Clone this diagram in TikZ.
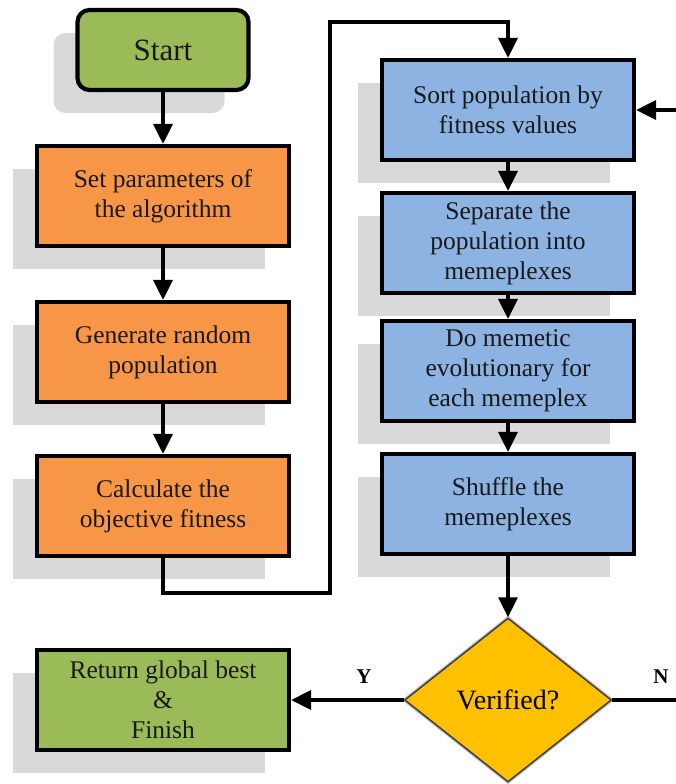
\documentclass[tikz,border=0pt]{standalone}
\usepackage{fontspec}
\setmainfont{Liberation Serif}
\usetikzlibrary{arrows.meta,shapes.geometric,shadows}
\definecolor{startgreen}{HTML}{9BBB59}
\definecolor{stepgold}{HTML}{F79646}
\definecolor{loopblue}{HTML}{8DB3E2}
\definecolor{askgold}{HTML}{FFC000}
\definecolor{shadowgray}{HTML}{D9D9D9}

\begin{document}
\begin{tikzpicture}[x=1pt,y=-1pt,
 box/.style={draw=black,line width=4.2pt,minimum width=252pt,minimum height=100pt,
  inner sep=2pt,align=center,text=black!90,font=\fontsize{25.5}{30}\selectfont,
  drop shadow={shadow xshift=-24pt,shadow yshift=-23pt,fill=shadowgray,opacity=1}},
 flow/.style={line width=3.3pt,-{Triangle[length=20pt,width=19pt]}},
 wire/.style={line width=3.3pt},
 yn/.style={font=\fontsize{21}{21}\selectfont\bfseries}]

\def\lx{163} \def\rx{508}
\useasboundingbox (0,0) rectangle (676,784);

%left column
\node[box,fill=startgreen,rounded corners=12pt,minimum width=171pt,minimum height=80pt,
 font=\fontsize{31}{31}\selectfont] (start) at (\lx,50) {Start};
\node[box,fill=stepgold] (param) at (\lx,196) {Set parameters of\\the algorithm};
\node[box,fill=stepgold] (gen) at (\lx,352) {Generate random\\population};
\node[box,fill=stepgold] (calc) at (\lx,506) {Calculate the\\objective fitness};
\node[box,fill=startgreen] (ret) at (\lx,700) {Return global best\\\&\\Finish};

%right column
\node[box,fill=loopblue] (sort) at (\rx,110) {Sort population by\\fitness values};
\node[box,fill=loopblue] (sep) at (\rx,243) {Separate the\\population into\\memeplexes};
\node[box,fill=loopblue] (meme) at (\rx,371) {Do memetic\\evolutionary for\\each memeplex};
\node[box,fill=loopblue] (shuf) at (\rx,504) {Shuffle the\\memeplexes};
\node[diamond,draw=black!75,line width=1.5pt,fill=askgold,aspect=1.26,inner sep=0pt,
 minimum width=207pt,minimum height=164pt,font=\fontsize{28}{28}\selectfont,
 drop shadow={shadow xshift=0pt,shadow yshift=0pt,shadow scale=1.03,fill=black,opacity=.25}]
 (ver) at (\rx,700) {Verified?};

\coordinate (loopa) at (330,593);
\coordinate (loopb) at (330,22);
\coordinate (nout) at (676,700);
\coordinate (nin) at (676,110);

\draw[flow] (start) -- (param);
\draw[flow] (param) -- (gen);
\draw[flow] (gen) -- (calc);
\draw[flow] (calc.south) |- (loopa) -- (loopb) -| (sort.north);
\draw[flow] (sort) -- (sep);
\draw[flow] (sep) -- (meme);
\draw[flow] (meme) -- (shuf);
\draw[flow] (shuf) -- (ver);
\draw[flow] (ver) -- (ret);
\draw[wire] (ver) -- (nout);
\draw[flow] (nin) -- (sort);

\node[yn] (ylab) at (364,677) {Y};
\node[yn] (nlab) at (661,677) {N};

\end{tikzpicture}
\end{document}
